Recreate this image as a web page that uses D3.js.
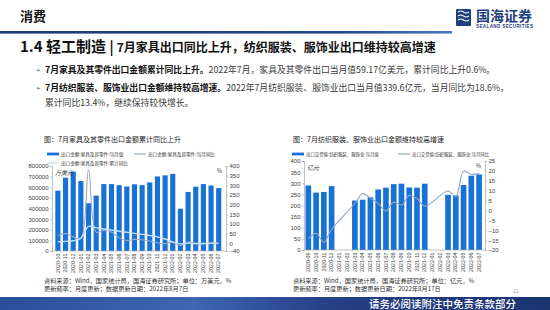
<!DOCTYPE html>
<html>
<head>
<meta charset="utf-8">
<script src="https://cdn.jsdelivr.net/npm/d3@7"></script>
<style>
  body { margin: 0; background: #fff; }
  svg { display: block; font-family: "Noto Sans CJK SC", "Noto Sans", sans-serif; }
</style>
</head>
<body>
<div id="slide"></div>
<script>
// ---- left chart: furniture exports (万美元, %)
const months1 = ["2020-10","2020-11","2020-12","2021-01","2021-02","2021-03","2021-04","2021-05","2021-06","2021-07","2021-08","2021-09","2021-10","2021-11","2021-12","2022-01","2022-02","2022-03","2022-04","2022-05","2022-06","2022-07"]
const furnValue = [568000, 690000, 748000, 658000, 450000, 522000, 630000, 630000, 620000, 607000, 628000, 620000, 645000, 702000, 712000, 726000, 398000, 556000, 605000, 630000, 616000, 591700]
const furnMonthYoY = [40, 50, 33, 26, 380, 57, 66, 58, 28, 14, 20, 18, 12, 3, -2, 6, -12, 8, -3, -3, 1, -1]
const furnCumYoY = [8, 10, 13, 26, 88, 80, 74, 68, 62, 57, 51, 46, 40, 33, 22, 6, -3, 1, -1, -1, 0.3, 0.6]
const furnLeftTicks = [0, 100000, 200000, 300000, 400000, 500000, 600000, 700000, 800000]
const furnRightTicks = [-40, 0, 50, 100, 150, 200, 250, 300, 350, 400]

// ---- right chart: textile & apparel export delivery value (亿元, %)
const months2 = ["2020-09","2020-10","2020-11","2020-12","2021-01","2021-02","2021-03","2021-04","2021-05","2021-06","2021-07","2021-08","2021-09","2021-10","2021-11","2021-12","2022-01","2022-02","2022-03","2022-04","2022-05","2022-06","2022-07"]
const textileValue = [290, 258, 261, 287, null, null, 222, 226, 237, 272, 280, 296, 298, 281, 280, 298, null, null, 248, 245, 292, 334, 339.6]
const textileYoY = [-14.4, -11.6, -16, -9.5, null, null, 3.5, 8.6, 6.2, 3.6, -0.2, 4.2, 2.7, 7.5, 6, 2.2, null, null, 9.8, 6.8, 19.8, 18.3, 18.6]
const textileLeftTicks = [0, 50, 100, 150, 200, 250, 300, 350, 400]
const textileRightTicks = [-20, -15, -10, -5, 0, 5, 10, 15, 20, 25]

const barBlue = "#1872d6"
const numFont = "'Liberation Sans', Arial, sans-serif"

const svg = d3.select("#slide")
  .append("svg")
  .attr("width", 550)
  .attr("height", 310)

const defs = svg.append("defs")
const topGrad = defs.append("linearGradient").attr("id", "topLine")
topGrad.append("stop").attr("offset", "0%").attr("stop-color", "#1d3a74")
topGrad.append("stop").attr("offset", "75%").attr("stop-color", "#24478c")
topGrad.append("stop").attr("offset", "100%").attr("stop-color", "#4a78c4")
const botGrad = defs.append("linearGradient").attr("id", "botBar")
botGrad.append("stop").attr("offset", "0%").attr("stop-color", "#2a4f98")
botGrad.append("stop").attr("offset", "35%").attr("stop-color", "#3e66b2")
botGrad.append("stop").attr("offset", "60%").attr("stop-color", "#263f85")
botGrad.append("stop").attr("offset", "100%").attr("stop-color", "#1c3470")

svg.append("rect").attr("width", 550).attr("height", 310).attr("fill", "#fff")

// header
svg.append("text").attr("x", 20).attr("y", 21)
  .style("font-size", "13px").style("font-weight", "bold").attr("fill", "#111")
  .text("消费")

svg.append("rect").attr("x", 0).attr("y", 31).attr("width", 452).attr("height", 2.6)
  .attr("fill", "url(#topLine)")

// logo
const logo = svg.append("g").attr("transform", "translate(456,9)")
logo.append("rect").attr("x", 0).attr("y", 0).attr("width", 15).attr("height", 17).attr("fill", "#1f3f7d").attr("rx", 1)
;[3, 7, 11].forEach(function (yy) {
  logo.append("path")
    .attr("d", `M2,${yy} q3,-2 5.5,0 t5.5,0`)
    .attr("fill", "none").attr("stroke", "#fff").attr("stroke-width", 1.1)
})
logo.append("text").attr("x", 20).attr("y", 12)
  .style("font-size", "14px").style("font-weight", "bold").attr("fill", "#1f3f7d")
  .text("国海证券")
logo.append("text").attr("x", 20).attr("y", 18.5)
  .style("font-size", "4.6px").style("font-weight", "bold").attr("fill", "#1f3f7d")
  .style("font-family", numFont).attr("textLength", 57)
  .text("SEALAND SECURITIES")

// section title
const title = svg.append("text").attr("x", 20).attr("y", 52).attr("fill", "#111").style("font-weight", "bold")
title.append("tspan").style("font-size", "15px").text("1.4 轻工制造 ")
title.append("tspan").style("font-size", "14px").text("| ")
title.append("tspan").style("font-size", "12px").text("7月家具出口同比上升，纺织服装、服饰业出口维持较高增速")

// bullets
const bullets = [
  { y: 72.5, bold: "7月家具及其零件出口金额累计同比上升。", normal: "2022年7月，家具及其零件出口当月值59.17亿美元，累计同比上升0.6%。", mark: true },
  { y: 90.5, bold: "7月纺织服装、服饰业出口金额维持较高增速。", normal: "2022年7月纺织服装、服饰业出口当月值339.6亿元，当月同比为18.6%，", mark: true },
  { y: 106, bold: "", normal: "累计同比13.4%，继续保持较快增长。", mark: false }
]
bullets.forEach(function (b) {
  if (b.mark) {
    svg.append("text").attr("x", 36).attr("y", b.y - 0.5)
      .style("font-family", "'DejaVu Sans'").style("font-size", "5.5px").attr("fill", "#333")
      .text("➢")
  }
  const t = svg.append("text").attr("x", 45).attr("y", b.y).style("font-size", "8.8px")
  if (b.bold) t.append("tspan").style("font-weight", "bold").attr("fill", "#111").text(b.bold)
  t.append("tspan").attr("fill", "#3a3a3a").text(b.normal)
})

// one bar + lines chart with two y axes
function drawChart (cfg) {
  const g = svg.append("g")

  g.append("text").attr("x", cfg.titleX).attr("y", 142)
    .style("font-size", "7px").attr("fill", "#222").text(cfg.title)

  const x = d3.scaleBand().domain(cfg.months).range(cfg.bandRange).padding(cfg.pad)
  const yL = d3.scaleLinear().domain(cfg.leftDomain).range([cfg.bottom, cfg.top])
  const yR = d3.scaleLinear().domain(cfg.rightDomain).range([cfg.bottom, cfg.top])

  // axes
  const axisColor = "#a6a6a6"
  const left = g.append("g").attr("transform", `translate(${cfg.axisL},0)`)
    .call(d3.axisLeft(yL).tickValues(cfg.leftTicks).tickSize(2).tickPadding(1.5).tickFormat(d3.format("d")))
  const right = g.append("g").attr("transform", `translate(${cfg.axisR},0)`)
    .call(d3.axisRight(yR).tickValues(cfg.rightTicks).tickSize(2).tickPadding(1.5).tickFormat(d3.format("d")))
  ;[left, right].forEach(function (a) {
    a.select(".domain").attr("stroke", axisColor).attr("stroke-width", 0.7)
    a.selectAll(".tick line").attr("stroke", axisColor).attr("stroke-width", 0.6)
    a.selectAll(".tick text").style("font-family", numFont).style("font-size", "6px").attr("fill", "#404040")
  })

  // bars
  g.selectAll("rect.bar")
    .data(cfg.months.map((m, i) => ({ m: m, v: cfg.bars[i] })).filter(d => d.v != null))
    .enter()
    .append("rect")
    .attr("class", "bar")
    .attr("x", d => x(d.m))
    .attr("y", d => yL(d.v))
    .attr("width", x.bandwidth())
    .attr("height", d => yL(0) - yL(d.v))
    .attr("fill", barBlue)

  // bottom axis
  const bottom = g.append("g").attr("transform", `translate(0,${cfg.bottom})`)
    .call(d3.axisBottom(x).tickSize(0).tickPadding(0))
  bottom.select(".domain").attr("stroke", axisColor).attr("stroke-width", 0.7)
    .attr("d", `M${cfg.axisL},0H${cfg.axisR}`)
  bottom.selectAll(".tick text")
    .attr("transform", "translate(0,2.5) rotate(-90)")
    .attr("text-anchor", "end")
    .attr("dy", "0.32em")
    .attr("y", 0)
    .style("font-family", numFont).style("font-size", "5.3px").attr("fill", "#404040")

  // lines
  cfg.lines.forEach(function (ln) {
    const pts = cfg.months.map((m, i) => [x(m) + x.bandwidth() / 2, ln.values[i]]).filter(p => p[1] != null)
    g.append("path")
      .datum(pts)
      .attr("fill", "none")
      .attr("stroke", ln.color)
      .attr("stroke-width", ln.width)
      .attr("d", d3.line().x(p => p[0]).y(p => yR(p[1])).curve(d3.curveCatmullRom.alpha(0.5)))
  })

  // unit labels inside plot
  g.append("text").attr("x", cfg.axisL + 3).attr("y", cfg.top + 9)
    .style("font-size", "6px").style("font-style", "italic").attr("fill", "#333").text(cfg.unitL)
  g.append("text").attr("x", cfg.axisR - 9).attr("y", cfg.top + 7)
    .style("font-size", "5.5px").attr("fill", "#333").text("%")

  // legend
  cfg.legend.forEach(function (it) {
    if (it.type === "bar") {
      g.append("rect").attr("x", it.x).attr("y", it.y - 1.4).attr("width", 12).attr("height", 2.8).attr("fill", barBlue)
    } else {
      g.append("line").attr("x1", it.x).attr("x2", it.x + 12).attr("y1", it.y).attr("y2", it.y)
        .attr("stroke", it.color).attr("stroke-width", 1.2)
    }
    g.append("text").attr("x", it.x + 14).attr("y", it.y + 1.6)
      .style("font-size", cfg.legendSize).attr("fill", "#333").text(it.label)
  })

  // sources
  g.append("text").attr("x", cfg.titleX).attr("y", 282.5)
    .style("font-size", "6.2px").attr("fill", "#333").text(cfg.src1)
  g.append("text").attr("x", cfg.titleX).attr("y", 291)
    .style("font-size", "6.2px").attr("fill", "#333").text(cfg.src2)
}

drawChart({
  title: "图：7月家具及其零件出口金额累计同比上升",
  titleX: 44,
  months: months1,
  bars: furnValue,
  bandRange: [52.8, 223.8],
  pad: 0.33,
  axisL: 52, axisR: 226,
  top: 166, bottom: 251,
  leftDomain: [0, 800000], rightDomain: [-40, 400],
  leftTicks: furnLeftTicks, rightTicks: furnRightTicks,
  lines: [
    { values: furnMonthYoY, color: "#98aac4", width: 1.1 },
    { values: furnCumYoY, color: "#c8dcf1", width: 1.4 }
  ],
  unitL: "万美元",
  legendSize: "4.6px",
  legend: [
    { type: "bar", x: 47, y: 154, label: "出口金额:家具及其零件:当月值" },
    { type: "line", x: 134, y: 154, color: "#98aac4", label: "出口金额:家具及其零件:当月同比" },
    { type: "line", x: 47, y: 163, color: "#c8dcf1", label: "出口金额:家具及其零件:累计同比" }
  ],
  src1: "资料来源：Wind，国家统计局，国海证券研究所；单位：万美元，%",
  src2: "更新频率：月度更新；数据更新日期：2022年8月7日"
})

drawChart({
  title: "图：7月纺织服装、服饰业出口金额维持较高增速",
  titleX: 293,
  months: months2,
  bars: textileValue,
  bandRange: [303.4, 484],
  pad: 0.27,
  axisL: 304, axisR: 485,
  top: 161, bottom: 250,
  leftDomain: [0, 400], rightDomain: [-20, 25],
  leftTicks: textileLeftTicks, rightTicks: textileRightTicks,
  lines: [
    { values: textileYoY, color: "#8ea4c6", width: 1.1 }
  ],
  unitL: "亿元",
  legendSize: "4.4px",
  legend: [
    { type: "bar", x: 292, y: 154, label: "出口交货值:纺织服装、服饰业:当月值" },
    { type: "line", x: 398, y: 154, color: "#8ea4c6", label: "出口交货值:纺织服装、服饰业:当月同比" }
  ],
  src1: "资料来源：Wind，国家统计局，国海证券研究所；单位：亿元，%",
  src2: "更新频率：月度更新；数据更新日期：2022年8月17日"
})

// footer
svg.append("text").attr("x", 513).attr("y", 292.5)
  .style("font-family", numFont).style("font-size", "5px").attr("fill", "#999").text("21")
svg.append("rect").attr("x", 0).attr("y", 297).attr("width", 550).attr("height", 13).attr("fill", "url(#botBar)")
svg.append("text").attr("x", 516).attr("y", 307.5).attr("text-anchor", "end")
  .style("font-size", "10.5px").style("font-weight", "500").attr("fill", "#fff").text("请务必阅读附注中免责条款部分")
</script>
</body>
</html>
